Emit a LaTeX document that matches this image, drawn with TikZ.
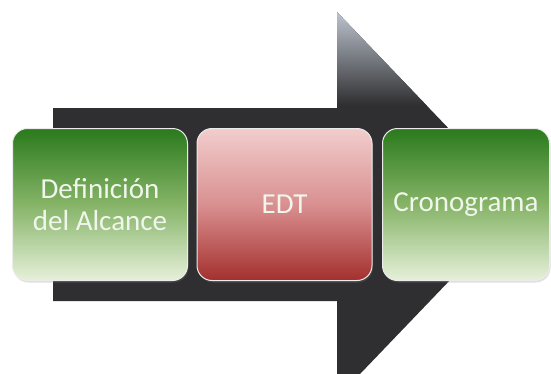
\documentclass[tikz,border=0pt]{standalone}
\usepackage{fontspec}
\setmainfont{Carlito}
\usetikzlibrary{shadows}
\definecolor{arrowdark}{HTML}{2F2F31}
\definecolor{arrowlight}{HTML}{BCC3CE}
\definecolor{greentop}{HTML}{2A7A1C}
\definecolor{greenmid}{HTML}{86B468}
\definecolor{greenbot}{HTML}{E6F0DA}
\definecolor{redtop}{HTML}{F2CDCD}
\definecolor{redmid}{HTML}{D99090}
\definecolor{redbot}{HTML}{A3302E}
\definecolor{labeltext}{HTML}{F1F6EC}
\tikzset{
  stage/.style={rounded corners=15pt, minimum width=175pt, minimum height=152pt,
    inner sep=0pt, draw=white!92!black, line width=1pt, align=center,
    text=labeltext, font=\fontsize{29}{32}\selectfont,
    drop shadow={shadow xshift=1pt, shadow yshift=-2pt, opacity=0.25}},
  greenstage/.style={stage, top color=greentop, bottom color=greenbot, middle color=greenmid},
  redstage/.style={stage, top color=redtop, bottom color=redbot, middle color=redmid},
}
\begin{document}
\begin{tikzpicture}[x=1pt,y=-1pt]
  \useasboundingbox[fill=white] (0,0) rectangle (551,373);
  % large process arrow behind the stages
  \path[fill=arrowdark] (53,108) -- (337,108) -- (337,12) -- (522,205)
       -- (337,398) -- (337,301) -- (53,301) -- cycle;
  \begin{scope}
    \clip (337,12) -- (522,205) -- (337,398) -- cycle;
    \shade[top color=arrowlight, bottom color=arrowdark] (337,12) rectangle (522,105);
  \end{scope}
  % the three stages
  \node[greenstage] (alcance) at (100,204.5) {Definición\\del Alcance};
  \node[redstage] (edt) at (284.5,204.5) {EDT};
  \node[greenstage, minimum width=167pt] (crono) at (466,204.5) {Cronograma};
\end{tikzpicture}
\end{document}
